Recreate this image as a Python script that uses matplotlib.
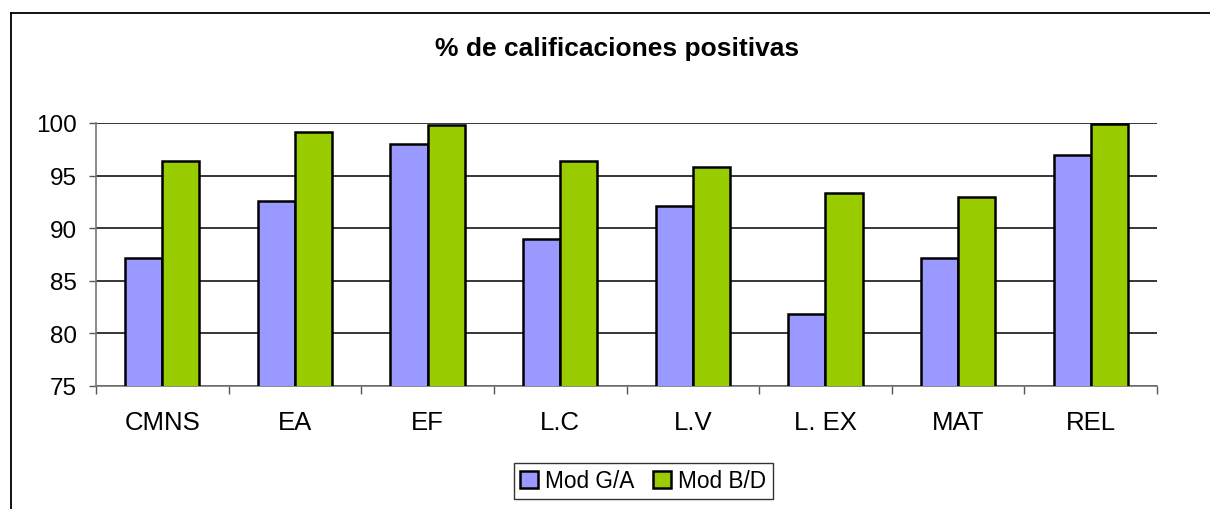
import numpy as np
import matplotlib
matplotlib.use("Agg")
import matplotlib.pyplot as plt
from matplotlib.lines import Line2D

plt.rcParams['font.family'] = ['Liberation Sans', 'DejaVu Sans']

categories = ["CMNS", "EA", "EF", "L.C", "L.V", "L. EX", "MAT", "REL"]
mod_ga = [87.2, 92.6, 98.0, 89.0, 92.1, 81.8, 87.2, 97.0]
mod_bd = [96.4, 99.1, 99.8, 96.4, 95.8, 93.3, 93.0, 99.9]
series_names = ["Mod G/A", "Mod B/D"]
yticks = [75, 80, 85, 90, 95, 100]

W, H = 1210, 510
fig = plt.figure(figsize=(W / 100, H / 100), dpi=100)
ax = fig.add_axes([96 / W, 1 - 387 / H, (1157 - 96) / W, (387 - 124) / H])

x = np.arange(len(categories))
bw = 0.28
ax.bar(x - bw / 2, mod_ga, bw, color="#9999FF", edgecolor="black",
       linewidth=1.8, label=series_names[0], zorder=3)
ax.bar(x + bw / 2, mod_bd, bw, color="#99CC00", edgecolor="black",
       linewidth=1.8, label=series_names[1], zorder=3)

ax.set_xlim(-0.5, len(categories) - 0.5)
ax.set_ylim(75, 100)
ax.set_yticks(yticks)
ax.yaxis.grid(True, color="black", linewidth=1.1, zorder=0)
ax.set_axisbelow(True)

ax.set_xticks(x)
ax.set_xticklabels(categories, fontsize=18.5)
ax.set_xticks(np.arange(len(categories) + 1) - 0.5, minor=True)
ax.tick_params(axis="x", which="major", length=0, pad=17.5)
ax.tick_params(axis="x", which="minor", length=6, width=1, color="#555555",
               direction="out")
ax.tick_params(axis="y", length=5, width=1, color="#555555", pad=9,
               labelsize=17.5)

for s in ["top", "right"]:
    ax.spines[s].set_visible(False)
for s in ["left", "bottom"]:
    ax.spines[s].set_color("#777777")
    ax.spines[s].set_linewidth(1.2)

fig.text(617 / W, 1 - 49 / H, "% de calificaciones positivas",
         ha="center", va="center", fontsize=19, fontweight="bold")

leg = fig.legend(loc="center", bbox_to_anchor=(643 / W, 1 - 482 / H),
                 ncol=2, fontsize=16.3, frameon=True, fancybox=False,
                 handlelength=0.8, handleheight=0.8, handletextpad=0.3,
                 columnspacing=0.8, borderpad=0.3, borderaxespad=0)
leg.get_frame().set_edgecolor("black")
leg.get_frame().set_linewidth(1.0)

# chart area border (left and top visible)
fig.add_artist(Line2D([10.5 / W, 10.5 / W], [0, 1 - 13.5 / H],
                      transform=fig.transFigure, color="black", linewidth=1.3))
fig.add_artist(Line2D([10.5 / W, 1], [1 - 13.5 / H, 1 - 13.5 / H],
                      transform=fig.transFigure, color="black", linewidth=1.3))

fig.savefig("out.png", dpi=100)
